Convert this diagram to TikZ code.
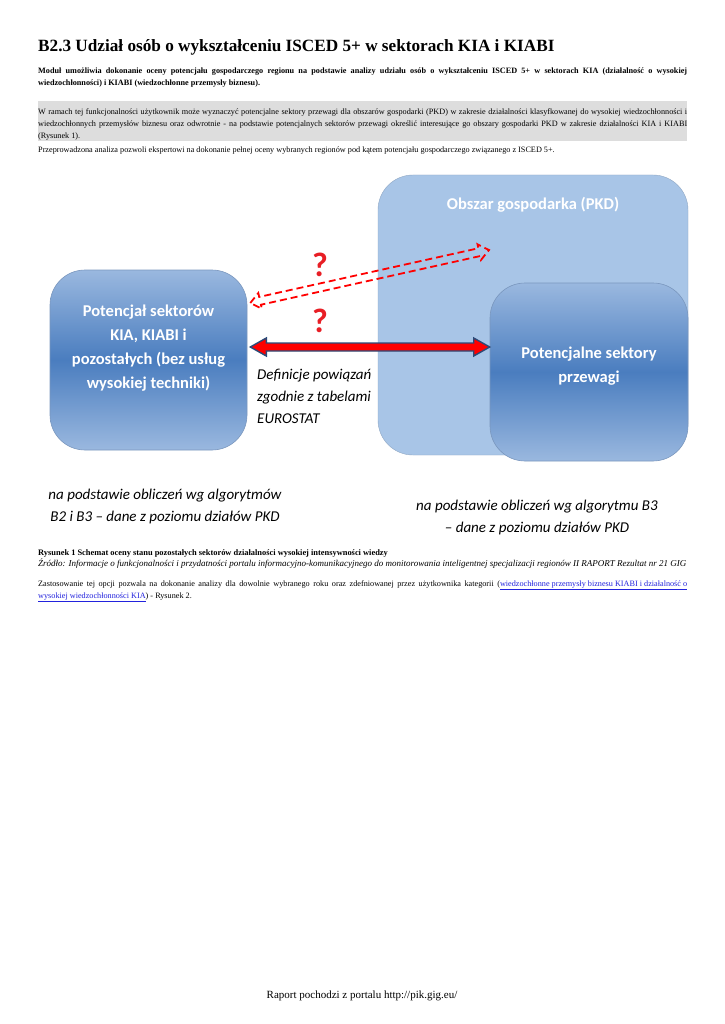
\documentclass[tikz,border=0pt]{standalone}
\usepackage{fontspec}
\setmainfont{Liberation Serif}
\newfontfamily\calibri{Carlito}[Ligatures=TeX]
\usetikzlibrary{calc,positioning}

\definecolor{pkdlight}{HTML}{A8C5E7}
\definecolor{boxblue}{HTML}{4A7DBF}
\definecolor{boxpale}{HTML}{9AB8DF}
\definecolor{boxedge}{HTML}{7A97BE}
\definecolor{arrownavy}{HTML}{2B4A78}
\definecolor{qred}{HTML}{E81E25}
\definecolor{shadegray}{HTML}{DDDDDD}
\definecolor{linkblue}{HTML}{2222DD}

\begin{document}
\begin{tikzpicture}[x=1pt, y=-1pt,
    % text styles
    para/.style={anchor=base west, inner sep=0pt, text width=649pt, align=justify, font=\fontsize{8.2}{12}\selectfont},
    plainline/.style={anchor=base west, inner sep=0pt, font=\fontsize{8.2}{12}\selectfont},
    boxtext/.style={text=white, align=center, inner sep=0pt, font=\calibri\bfseries\fontsize{16.5}{24}\selectfont},
    note/.style={align=center, inner sep=0pt, font=\calibri\itshape\fontsize{15}{22}\selectfont},
    qmark/.style={text=qred, inner sep=0pt, font=\calibri\bfseries\fontsize{34}{38}\selectfont},
    % box styles
    pkdarea/.style={rectangle, rounded corners=35pt, fill=pkdlight, draw=pkdlight!85!black, line width=0.4pt, minimum width=310pt, minimum height=280pt},
    sectorbox/.style={rectangle, rounded corners=35pt, draw=boxedge, line width=0.6pt, top color=boxpale, bottom color=boxpale, middle color=boxblue},
    % connector styles
    linkarrow/.style={fill=red, draw=arrownavy, line width=1.4pt, line join=miter},
    guessarrow/.style={draw=red, line width=1.8pt, dash pattern=on 7pt off 4pt, line join=miter}
]
\useasboundingbox[fill=white] (0,0) rectangle (724,1024);

% Title and text above the figure
\node[anchor=base west, inner sep=0pt, font=\bfseries\fontsize{17.2}{22}\selectfont] (title) at (38,52) {B2.3 Udział osób o wykształceniu ISCED 5+ w sektorach KIA i KIABI};

\node[para, font=\bfseries\fontsize{8.2}{12}\selectfont] (intro) at (38,74) {Moduł umożliwia dokonanie oceny potencjału gospodarczego regionu na podstawie analizy udziału osób o wykształceniu ISCED 5+ w sektorach KIA (działalność o wysokiej\linebreak wiedzochłonności) i KIABI (wiedzochłonne przemysły biznesu).};

\node[fill=shadegray, anchor=north west, inner sep=0pt, minimum width=649pt, minimum height=40pt] (grayband) at (38,101) {};
\node[para] (scope) at (38,115) {W ramach tej funkcjonalności użytkownik może wyznaczyć potencjalne sektory przewagi dla obszarów gospodarki (PKD) w zakresie działalności klasyfkowanej do wysokiej wiedzochłonności i\linebreak wiedzochłonnych przemysłów biznesu oraz odwrotnie - na podstawie potencjalnych sektorów przewagi określić interesujące go obszary gospodarki PKD w zakresie działalności KIA i KIABI\linebreak (Rysunek 1).};

\node[plainline] (aim) at (38,153) {Przeprowadzona analiza pozwoli ekspertowi na dokonanie pełnej oceny wybranych regionów pod kątem potencjału gospodarczego związanego z ISCED 5+.};

% Figure: economy area with its sectors
\node[pkdarea] (pkd) at (533,315) {};
\node[boxtext] (pkdtitle) at (533,205) {Obszar gospodarka (PKD)};
\node[sectorbox, minimum width=198pt, minimum height=178pt] (adv) at (589,372) {};
\node[boxtext] (advtext) at ($(adv.center)+(0,-6)$) {Potencjalne sektory\\przewagi};

% Figure: sector potential box
\node[sectorbox, minimum width=197pt, minimum height=180pt] (lsec) at (148.5,360) {};
\node[boxtext] (lsectext) at ($(lsec.center)+(0,-12)$) {Potencjał sektorów\\KIA, KIABI i\\pozostałych (bez usług\\wysokiej techniki)};

% Connectors
\coordinate (ra) at ($(lsec.east)+(3,-13)$);
\coordinate (rb) at ($(adv.west)+(0,-25)$);
\draw[linkarrow] (ra) -- ++(16,-9) -- ++(0,5) -- ($(rb)+(-16,-4)$) -- ++(0,-5) -- (rb)
    -- ++(-16,9) -- ++(0,-5) -- ($(ra)+(16,4)$) -- ++(0,5) -- cycle;

\coordinate (da) at ($(lsec.east)+(3,-57)$);
\coordinate (db) at (489,250);
\draw[guessarrow] (da) -- ($(da)!10pt!(db)!8pt!90:(db)$) -- ($(da)!10pt!(db)!4pt!90:(db)$)
    -- ($(db)!10pt!(da)!4pt!-90:(da)$) -- ($(db)!10pt!(da)!8pt!-90:(da)$) -- (db)
    -- ($(db)!10pt!(da)!8pt!90:(da)$) -- ($(db)!10pt!(da)!4pt!90:(da)$)
    -- ($(da)!10pt!(db)!4pt!-90:(db)$) -- ($(da)!10pt!(db)!8pt!-90:(db)$) -- cycle;

\node[qmark] (q1) at (320,265) {?};
\node[qmark] (q2) at (320,321) {?};

\node[note, align=left, anchor=base west] (eurostat) at (257,423) {Definicje powiązań\\zgodnie z tabelami\\EUROSTAT};

% Notes under the boxes
\node[note] (lnote) at (165,506) {na podstawie obliczeń wg algorytmów\\B2 i B3 – dane z poziomu działów PKD};
\node[note] (rnote) at (537,517) {na podstawie obliczeń wg algorytmu B3\\– dane z poziomu działów PKD};

% Caption and text below the figure
\node[plainline, font=\bfseries\fontsize{8.4}{12}\selectfont] (caption) at (38,555) {Rysunek 1 Schemat oceny stanu pozostałych sektorów działalności wysokiej intensywności wiedzy};
\node[plainline, font=\itshape\fontsize{9}{12}\selectfont] (source) at (38,566) {Źródło: Informacje o funkcjonalności i przydatności portalu informacyjno-komunikacyjnego do monitorowania inteligentnej specjalizacji regionów II RAPORT Rezultat nr 21 GIG};

\node[para] (usage) at (38,586) {Zastosowanie tej opcji pozwala na dokonanie analizy dla dowolnie wybranego roku oraz zdefniowanej przez użytkownika kategorii ({\color{linkblue}\underline{wiedzochłonne przemysły biznesu KIABI i działalność o}}\linebreak {\color{linkblue}\underline{wysokiej wiedzochłonności KIA}}) - Rysunek 2.};

% Footer
\node[font=\fontsize{11}{14}\selectfont, inner sep=0pt] (footer) at (362,996) {Raport pochodzi z portalu http://pik.gig.eu/};
\end{tikzpicture}
\end{document}
